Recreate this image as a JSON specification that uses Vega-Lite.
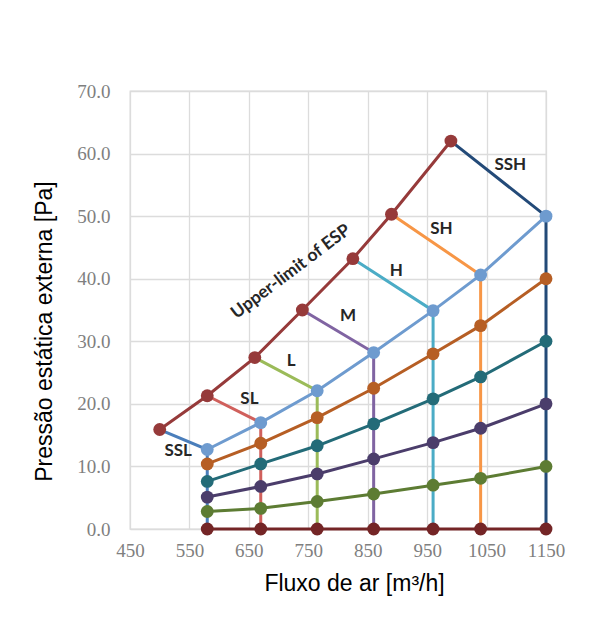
{
  "$schema": "https://vega.github.io/schema/vega-lite/v6.json",
  "autosize": "none",
  "width": 416,
  "height": 438,
  "padding": {"left": 130, "top": 91, "right": 44, "bottom": 95},
  "background": "white",
  "config": {
    "view": {"stroke": "#D9D9D9", "strokeWidth": 1.3},
    "axis": {
      "grid": true, "gridColor": "#DCDCDC", "gridWidth": 1.3,
      "ticks": false, "tickSize": 0, "domain": false,
      "labelFont": "Liberation Serif", "labelFontSize": 19, "labelColor": "#7F7F7F",
      "titleFont": "Liberation Sans", "titleFontSize": 23, "titleFontWeight": "normal", "titleColor": "#000000"
    }
  },
  "datasets": {
    "curves": [
      {"s": "Upper-limit of ESP", "o": 1, "x": 500, "y": 15.9},
      {"s": "Upper-limit of ESP", "o": 2, "x": 580, "y": 21.3},
      {"s": "Upper-limit of ESP", "o": 3, "x": 660, "y": 27.4},
      {"s": "Upper-limit of ESP", "o": 4, "x": 740, "y": 35.0},
      {"s": "Upper-limit of ESP", "o": 5, "x": 825, "y": 43.2},
      {"s": "Upper-limit of ESP", "o": 6, "x": 890, "y": 50.3},
      {"s": "Upper-limit of ESP", "o": 7, "x": 990, "y": 62.0},
      {"s": "ESP 6", "o": 1, "x": 580, "y": 12.7},
      {"s": "ESP 6", "o": 2, "x": 670, "y": 17.0},
      {"s": "ESP 6", "o": 3, "x": 765, "y": 22.1},
      {"s": "ESP 6", "o": 4, "x": 860, "y": 28.2},
      {"s": "ESP 6", "o": 5, "x": 960, "y": 34.9},
      {"s": "ESP 6", "o": 6, "x": 1040, "y": 40.6},
      {"s": "ESP 6", "o": 7, "x": 1150, "y": 50.0},
      {"s": "ESP 5", "o": 1, "x": 580, "y": 10.4},
      {"s": "ESP 5", "o": 2, "x": 670, "y": 13.7},
      {"s": "ESP 5", "o": 3, "x": 765, "y": 17.8},
      {"s": "ESP 5", "o": 4, "x": 860, "y": 22.5},
      {"s": "ESP 5", "o": 5, "x": 960, "y": 28.0},
      {"s": "ESP 5", "o": 6, "x": 1040, "y": 32.5},
      {"s": "ESP 5", "o": 7, "x": 1150, "y": 40.0},
      {"s": "ESP 4", "o": 1, "x": 580, "y": 7.6},
      {"s": "ESP 4", "o": 2, "x": 670, "y": 10.4},
      {"s": "ESP 4", "o": 3, "x": 765, "y": 13.3},
      {"s": "ESP 4", "o": 4, "x": 860, "y": 16.8},
      {"s": "ESP 4", "o": 5, "x": 960, "y": 20.8},
      {"s": "ESP 4", "o": 6, "x": 1040, "y": 24.3},
      {"s": "ESP 4", "o": 7, "x": 1150, "y": 30.0},
      {"s": "ESP 3", "o": 1, "x": 580, "y": 5.1},
      {"s": "ESP 3", "o": 2, "x": 670, "y": 6.8},
      {"s": "ESP 3", "o": 3, "x": 765, "y": 8.8},
      {"s": "ESP 3", "o": 4, "x": 860, "y": 11.2},
      {"s": "ESP 3", "o": 5, "x": 960, "y": 13.8},
      {"s": "ESP 3", "o": 6, "x": 1040, "y": 16.1},
      {"s": "ESP 3", "o": 7, "x": 1150, "y": 20.0},
      {"s": "ESP 2", "o": 1, "x": 580, "y": 2.8},
      {"s": "ESP 2", "o": 2, "x": 670, "y": 3.3},
      {"s": "ESP 2", "o": 3, "x": 765, "y": 4.4},
      {"s": "ESP 2", "o": 4, "x": 860, "y": 5.6},
      {"s": "ESP 2", "o": 5, "x": 960, "y": 7.0},
      {"s": "ESP 2", "o": 6, "x": 1040, "y": 8.1},
      {"s": "ESP 2", "o": 7, "x": 1150, "y": 10.0},
      {"s": "ESP 1", "o": 1, "x": 580, "y": 0},
      {"s": "ESP 1", "o": 2, "x": 670, "y": 0},
      {"s": "ESP 1", "o": 3, "x": 765, "y": 0},
      {"s": "ESP 1", "o": 4, "x": 860, "y": 0},
      {"s": "ESP 1", "o": 5, "x": 960, "y": 0},
      {"s": "ESP 1", "o": 6, "x": 1040, "y": 0},
      {"s": "ESP 1", "o": 7, "x": 1150, "y": 0}
    ],
    "modes": [
      {"s": "SSL", "o": 1, "x": 500, "y": 15.9},
      {"s": "SSL", "o": 2, "x": 580, "y": 12.7},
      {"s": "SSL", "o": 3, "x": 580, "y": 0},
      {"s": "SL", "o": 1, "x": 580, "y": 21.3},
      {"s": "SL", "o": 2, "x": 670, "y": 17.0},
      {"s": "SL", "o": 3, "x": 670, "y": 0},
      {"s": "L", "o": 1, "x": 660, "y": 27.4},
      {"s": "L", "o": 2, "x": 765, "y": 22.1},
      {"s": "L", "o": 3, "x": 765, "y": 0},
      {"s": "M", "o": 1, "x": 740, "y": 35.0},
      {"s": "M", "o": 2, "x": 860, "y": 28.2},
      {"s": "M", "o": 3, "x": 860, "y": 0},
      {"s": "H", "o": 1, "x": 825, "y": 43.2},
      {"s": "H", "o": 2, "x": 960, "y": 34.9},
      {"s": "H", "o": 3, "x": 960, "y": 0},
      {"s": "SH", "o": 1, "x": 890, "y": 50.3},
      {"s": "SH", "o": 2, "x": 1040, "y": 40.6},
      {"s": "SH", "o": 3, "x": 1040, "y": 0},
      {"s": "SSH", "o": 1, "x": 990, "y": 62.0},
      {"s": "SSH", "o": 2, "x": 1150, "y": 50.0},
      {"s": "SSH", "o": 3, "x": 1150, "y": 0}
    ],
    "labels": [
      {"t": "SSL", "x": 531, "y": 12.5},
      {"t": "SL", "x": 651, "y": 20.7},
      {"t": "L", "x": 721, "y": 26.8},
      {"t": "M", "x": 817, "y": 34.0},
      {"t": "H", "x": 898, "y": 41.2},
      {"t": "SH", "x": 974, "y": 47.9},
      {"t": "SSH", "x": 1090, "y": 58.2}
    ],
    "upper": [
      {"t": "Upper-limit of ESP", "x": 721, "y": 41.1}
    ]
  },
  "encoding": {
    "x": {
      "field": "x", "type": "quantitative",
      "scale": {"domain": [450, 1150], "nice": false, "zero": false},
      "axis": {"values": [450, 550, 650, 750, 850, 950, 1050, 1150], "format": "d", "labelPadding": 12, "title": "Fluxo de ar [m³/h]", "titleX": 224, "titleY": 61, "titleBaseline": "alphabetic", "titleAnchor": null, "labelFlush": false}
    },
    "y": {
      "field": "y", "type": "quantitative",
      "scale": {"domain": [0, 70], "nice": false},
      "axis": {"values": [0, 10, 20, 30, 40, 50, 60, 70], "format": ".1f", "labelPadding": 20, "title": "Pressão estática externa [Pa]", "titleX": -79, "titleY": 240, "titleBaseline": "alphabetic", "titleAngle": -90, "titleAlign": "center", "labelFlush": false}
    }
  },
  "layer": [
    {
      "data": {"name": "modes"},
      "mark": {"type": "line", "strokeWidth": 3},
      "encoding": {
        "color": {"field": "s", "type": "nominal", "legend": null,
          "scale": {
            "domain": ["SSL", "SL", "L", "M", "H", "SH", "SSH", "Upper-limit of ESP", "ESP 6", "ESP 5", "ESP 4", "ESP 3", "ESP 2", "ESP 1"],
            "range": ["#4A7EBB", "#D0605C", "#9BBB59", "#8064A2", "#4BACC6", "#F79646", "#234A78", "#963A3A", "#6E9BCF", "#B65E24", "#236B78", "#4B3D6B", "#5D7C33", "#742526"]
          }},
        "order": {"field": "o", "type": "quantitative"}
      }
    },
    {
      "data": {"name": "curves"},
      "mark": {"type": "line", "strokeWidth": 3, "point": {"filled": true, "size": 165, "opacity": 1}},
      "encoding": {
        "color": {"field": "s", "type": "nominal", "legend": null},
        "order": {"field": "o", "type": "quantitative"}
      }
    },
    {
      "data": {"name": "labels"},
      "mark": {"type": "text", "font": "Lato", "fontSize": 17, "fontWeight": "bold", "color": "#262626", "align": "center", "baseline": "middle"},
      "encoding": {"text": {"field": "t", "type": "nominal"}}
    },
    {
      "data": {"name": "upper"},
      "mark": {"type": "text", "font": "Lato", "fontSize": 17.5, "fontWeight": "bold", "color": "#262626", "align": "center", "baseline": "middle", "angle": 323},
      "encoding": {"text": {"field": "t", "type": "nominal"}}
    }
  ]
}
